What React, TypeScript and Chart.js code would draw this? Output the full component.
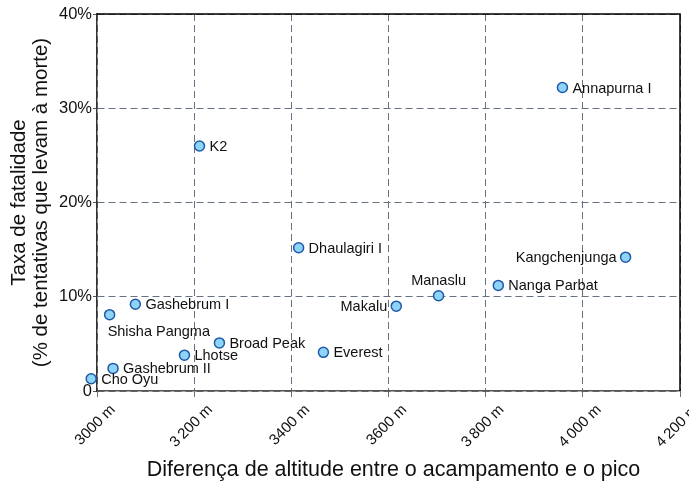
import React, { useEffect, useRef } from "react";
import { Chart, registerables } from "chart.js";

Chart.register(...registerables);

const peaks = [
  "Annapurna I", "K2", "Dhaulagiri I", "Kangchenjunga", "Nanga Parbat", "Manaslu", "Makalu",
  "Gashebrum I", "Shisha Pangma", "Broad Peak", "Lhotse", "Everest", "Gashebrum II", "Cho Oyu",
];
const altitudeDiff = [3958, 3211, 3415, 4088, 3826, 3703, 3616, 3079, 3026, 3252, 3180, 3466, 3033, 2988];
const fatalityRate = [32.2, 26.0, 15.2, 14.2, 11.2, 10.1, 9.0, 9.2, 8.1, 5.1, 3.8, 4.1, 2.4, 1.3];
const labelSide = ["r", "r", "r", "l", "r", "t", "l", "r", "b", "r", "r", "r", "r", "r"];

const xTickValues = [3000, 3200, 3400, 3600, 3800, 4000, 4200];
const xTickLabels = ["3000 m", "3\u2009200 m", "3400 m", "3600 m", "3\u2009800 m", "4\u2009000 m", "4\u2009200 m"];
const yTickValues = [0, 10, 20, 30, 40];
const yTickLabels = ["0", "10%", "20%", "30%", "40%"];

const xTitle = "Diferença de altitude entre o acampamento e o pico";
const yTitle = ["Taxa de fatalidade", "(% de tentativas que levam à morte)"];

const FONT = "'Liberation Sans', Arial, sans-serif";

const labelPlugin = {
  id: "pointLabels",
  afterDatasetsDraw(chart: any) {
    const ctx = chart.ctx;
    const meta = chart.getDatasetMeta(0);
    ctx.save();
    ctx.font = `14.5px ${FONT}`;
    ctx.fillStyle = "#111";
    ctx.textBaseline = "middle";
    meta.data.forEach((el: any, i: number) => {
      const side = labelSide[i];
      const x = el.x;
      const y = el.y;
      if (side === "r") {
        ctx.textAlign = "left";
        ctx.fillText(peaks[i], x + 10, y + 1);
      } else if (side === "l") {
        ctx.textAlign = "right";
        ctx.fillText(peaks[i], x - 9, y + 1);
      } else if (side === "t") {
        ctx.textAlign = "center";
        ctx.fillText(peaks[i], x, y - 15);
      } else {
        ctx.textAlign = "left";
        ctx.fillText(peaks[i], x - 2, y + 17);
      }
    });
    ctx.restore();
  },
};

const framePlugin = {
  id: "frame",
  afterDraw(chart: any) {
    const { ctx, chartArea } = chart;
    ctx.save();
    ctx.strokeStyle = "#000";
    ctx.lineWidth = 1.5;
    ctx.beginPath();
    ctx.moveTo(chartArea.left, chartArea.top);
    ctx.lineTo(chartArea.right, chartArea.top);
    ctx.lineTo(chartArea.right, chartArea.bottom);
    ctx.stroke();
    // x-axis title
    ctx.font = `21.5px ${FONT}`;
    ctx.fillStyle = "#111";
    ctx.textAlign = "center";
    ctx.textBaseline = "middle";
    ctx.fillText(xTitle, (chartArea.left + chartArea.right) / 2 + 5, chart.height - 16);
    ctx.restore();
  },
};

export default function App() {
  const ref = useRef<HTMLCanvasElement | null>(null);
  useEffect(() => {
    if (!ref.current) return;
    const chart = new Chart(ref.current, {
      type: "scatter",
      data: {
        datasets: [
          {
            data: altitudeDiff.map((x, i) => ({ x, y: fatalityRate[i] })),
            backgroundColor: "#8ed4f8",
            borderColor: "#1f5aa6",
            borderWidth: 1.5,
            pointRadius: 5,
            hoverRadius: 12,
            clip: false as any,
          },
        ],
      },
      options: {
        animation: false,
        responsive: false,
        events: [],
        layout: { autoPadding: false, padding: { top: 14, right: 9, left: 0, bottom: 0 } },
        plugins: { legend: { display: false }, tooltip: { enabled: false } },
        scales: {
          x: {
            type: "linear",
            min: 3000,
            max: 4200,
            afterFit(scale: any) {
              scale.height = 95;
              scale.paddingLeft = 0;
              scale.paddingRight = 0;
            },
            afterBuildTicks(scale: any) {
              scale.ticks = xTickValues.map((v) => ({ value: v }));
            },
            ticks: {
              font: { family: FONT, size: 15 },
              color: "#111",
              minRotation: 45,
              maxRotation: 45,
              padding: 4,
              labelOffset: 16,
              autoSkip: false,
              callback: (v: any) => {
                const i = xTickValues.indexOf(Number(v));
                return i >= 0 ? xTickLabels[i] : "";
              },
            },
            grid: {
              color: "#66727f",
              lineWidth: 1,
              tickLength: 6,
              tickColor: "#66727f",
              tickBorderDash: [],
            } as any,
            border: { display: true, color: "#555", width: 1.5, dash: [7, 4] } as any,
            title: { display: false },
          },
          y: {
            type: "linear",
            min: 0,
            max: 40,
            afterFit(scale: any) {
              scale.width = 97;
            },
            afterBuildTicks(scale: any) {
              scale.ticks = yTickValues.map((v) => ({ value: v }));
            },
            ticks: {
              font: { family: FONT, size: 16.5 },
              color: "#111",
              padding: 1,
              callback: (v: any) => {
                const i = yTickValues.indexOf(Number(v));
                return i >= 0 ? yTickLabels[i] : "";
              },
            },
            grid: {
              color: "#66727f",
              lineWidth: 1,
              tickLength: 4,
              tickColor: "#555",
              tickBorderDash: [],
            } as any,
            border: { display: true, color: "#333", width: 1.5, dash: [7, 4] } as any,
            title: {
              display: true,
              text: yTitle,
              font: { family: FONT, size: 20.5, lineHeight: 1.1 },
              color: "#111",
              padding: { top: 8, bottom: 0 },
            },
          },
        },
      },
      plugins: [labelPlugin, framePlugin],
    });
    return () => chart.destroy();
  }, []);
  return (
    <div style={{ position: "fixed", left: 0, top: 0, width: 689, height: 486, background: "#fff" }}>
      <canvas ref={ref} width={689} height={486} style={{ width: 689, height: 486, display: "block" }} />
    </div>
  );
}
